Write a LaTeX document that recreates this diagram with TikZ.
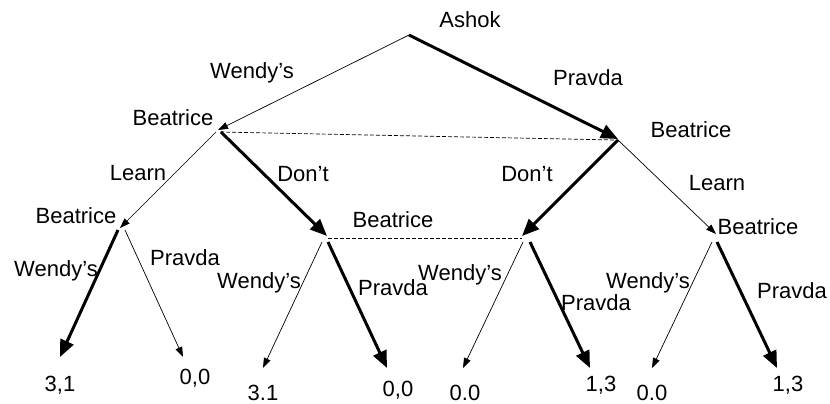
\documentclass[tikz,border=0pt]{standalone}
\usepackage{fontspec}
\setmainfont{Liberation Sans}
\usetikzlibrary{arrows.meta}
\begin{document}
\begin{tikzpicture}[x=1pt,y=-1pt,
  thinarr/.style={line width=0.7pt,-{Triangle[length=10pt,width=7pt]}},
  thickarr/.style={line width=3pt,-{Triangle[length=17pt,width=14pt]}},
  infoset/.style={line width=0.7pt,dash pattern=on 4pt off 2pt},
  lbl/.style={inner sep=0pt,anchor=base,font=\fontsize{22}{26}\selectfont}]
\useasboundingbox (0,0) rectangle (830,404);
% decision points
\coordinate (r) at (409,35);
\coordinate (b1) at (218,130);
\coordinate (b2) at (618,139);
\coordinate (n1) at (120,228);
\coordinate (n2) at (327,236);
\coordinate (n3) at (522,236);
\coordinate (n4) at (716,234);
% terminal points
\coordinate (t1) at (60,357);
\coordinate (t2) at (183,357);
\coordinate (t3) at (263,368);
\coordinate (t4) at (387,368);
\coordinate (t5) at (463,368);
\coordinate (t6) at (590,368);
\coordinate (t7) at (652,368);
\coordinate (t8) at (777,368);
% information sets
\draw[infoset] ([shift={(2,2)}]b1) -- ([shift={(-3,1)}]b2);
\draw[infoset] ([shift={(1,2)}]n2) -- ([shift={(0,2)}]n3);
% Ashok
\draw[thinarr] (r) -- (b1);
\draw[thickarr] (r) -- (b2);
% Beatrice (first)
\draw[thinarr] ([shift={(-2,2)}]b1) -- (n1);
\draw[thickarr] ([shift={(3,2)}]b1) -- (n2);
\draw[thickarr] ([shift={(0,1)}]b2) -- (n3);
\draw[thinarr] ([shift={(0,1)}]b2) -- (n4);
% Beatrice (second)
\draw[thickarr] ([shift={(-2,2)}]n1) -- (t1);
\draw[thinarr] ([shift={(5,2)}]n1) -- (t2);
\draw[thinarr] ([shift={(-5,6)}]n2) -- (t3);
\draw[thickarr] ([shift={(1,6)}]n2) -- (t4);
\draw[thinarr] ([shift={(1,6)}]n3) -- (t5);
\draw[thickarr] ([shift={(8,6)}]n3) -- (t6);
\draw[thinarr] ([shift={(-4,8)}]n4) -- (t7);
\draw[thickarr] ([shift={(1,8)}]n4) -- (t8);
% labels
\node[lbl] (lA) at (470,28) {Ashok};
\node[lbl] (lW0) at (252,78) {Wendy’s};
\node[lbl] (lP0) at (588,85) {Pravda};
\node[lbl] (lB1) at (173,125) {Beatrice};
\node[lbl] (lB2) at (691,137) {Beatrice};
\node[lbl] (lL1) at (138,180) {Learn};
\node[lbl] (lD1) at (303,181) {Don’t};
\node[lbl] (lD2) at (527,181) {Don’t};
\node[lbl] (lL2) at (717,190) {Learn};
\node[lbl] (lB3) at (76,223) {Beatrice};
\node[lbl] (lB4) at (393,227) {Beatrice};
\node[lbl] (lB5) at (758,234) {Beatrice};
\node[lbl] (lW1) at (56,276) {Wendy’s};
\node[lbl] (lP1) at (185,265) {Pravda};
\node[lbl] (lW2) at (259,288) {Wendy’s};
\node[lbl] (lP2) at (393,295) {Pravda};
\node[lbl] (lW3) at (460,280) {Wendy’s};
\node[lbl] (lP3) at (596,310) {Pravda};
\node[lbl] (lW4) at (648,288) {Wendy’s};
\node[lbl] (lP4) at (792,298) {Pravda};
% payoffs
\node[lbl] (p1) at (60,391) {3,1};
\node[lbl] (p2) at (195,384) {0,0};
\node[lbl] (p3) at (263,400) {3.1};
\node[lbl] (p4) at (398,396) {0,0};
\node[lbl] (p5) at (465,400) {0.0};
\node[lbl] (p6) at (601,391) {1,3};
\node[lbl] (p7) at (652,400) {0.0};
\node[lbl] (p8) at (788,391) {1,3};
\end{tikzpicture}
\end{document}
